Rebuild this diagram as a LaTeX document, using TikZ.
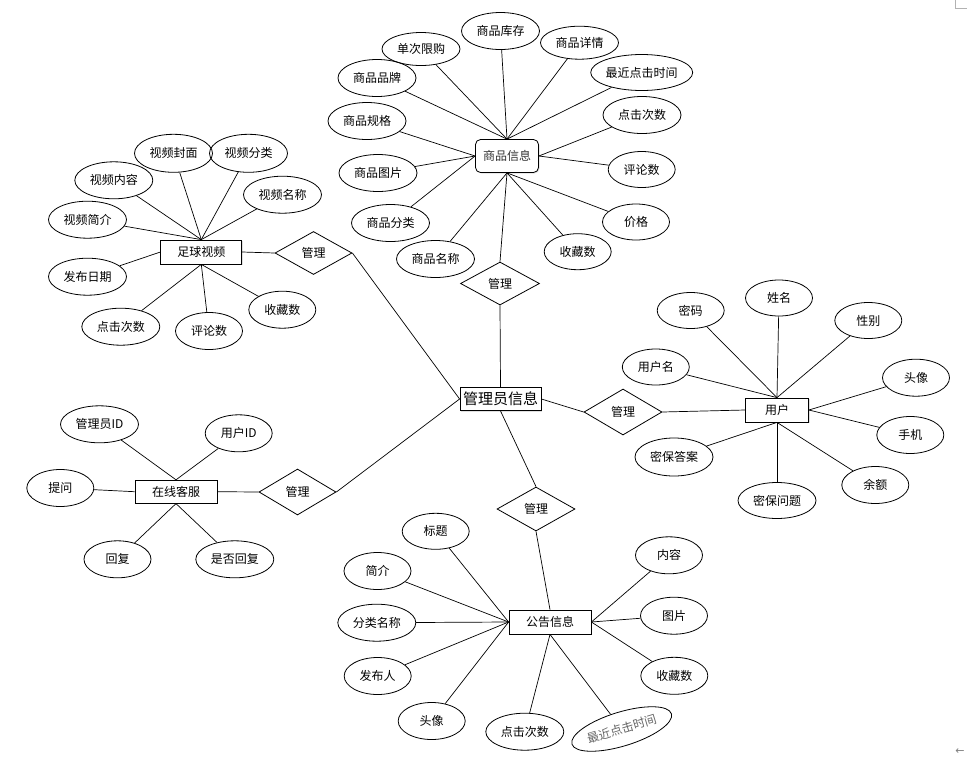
\documentclass[tikz,border=0pt]{standalone}
\usepackage{fontspec}
\setmainfont{Noto Sans CJK SC}
\newfontfamily\symfont{DejaVu Sans}
\usetikzlibrary{shapes.geometric,shadows}
\tikzset{
  base/.style={inner sep=0pt, font=\fontsize{12}{14}\selectfont, line width=0.8pt},
  attr/.style={base, ellipse, draw, minimum width=78pt, minimum height=37pt},
  sattr/.style={attr, minimum width=67pt, minimum height=36pt},
  lattr/.style={attr, minimum width=102pt, minimum height=36pt},
  ent/.style={base, rectangle, draw, fill=white, drop shadow={shadow xshift=1pt, shadow yshift=-1pt, opacity=0.25}},
  rel/.style={base, diamond, draw},
  link/.style={line width=0.7pt}
}
\begin{document}
\begin{tikzpicture}[x=1pt,y=-1pt]
\useasboundingbox (0,0) rectangle (967,761);
% ===== 商品信息 =====
\node[ent, rounded corners=5pt, minimum width=63pt, minimum height=33pt, text=black!80] (pinfo) at (507,156) {商品信息};
\node[attr] (a1) at (500.5,31) {商品库存};
\node[attr, minimum height=33pt] (a2) at (421,49) {单次限购};
\node[attr, minimum height=33pt] (a3) at (579.5,42.7) {商品详情};
\node[lattr] (a4) at (641.7,72.5) {最近点击时间};
\node[attr] (a5) at (377,78) {商品品牌};
\node[attr] (a6) at (367,121) {商品规格};
\node[attr] (a7) at (642,115) {点击次数};
\node[attr] (a8) at (378,173) {商品图片};
\node[sattr] (a9) at (641.7,169.5) {评论数};
\node[attr] (a10) at (390.5,223) {商品分类};
\node[sattr] (a11) at (636,222) {价格};
\node[sattr] (a12) at (577.7,251.7) {收藏数};
\node[attr] (a13) at (435.5,259) {商品名称};
\foreach \n in {a1,a2,a3,a4,a5} \draw[link] (pinfo.north) -- (\n);
\foreach \n in {a6,a8,a10} \draw[link] (pinfo.west) -- (\n);
\foreach \n in {a7,a9} \draw[link] (pinfo.east) -- (\n);
\foreach \n in {a11,a12,a13} \draw[link] (pinfo.south) -- (\n);
\node[rel, minimum width=79pt, minimum height=43pt] (m1) at (500,283.5) {管理};
% ===== 管理员信息 =====
\node[ent, minimum width=81pt, minimum height=23pt, font=\fontsize{15}{17}\selectfont] (admin) at (500.5,399) {管理员信息};
\draw[link] (pinfo.south) -- (m1.north);
\draw[link] (m1.south) -- (admin.north);
% ===== 足球视频 =====
\node[ent, minimum width=81pt, minimum height=24pt] (video) at (201.3,252) {足球视频};
\node[attr, minimum height=38pt] (v1) at (173.5,153.3) {视频封面};
\node[attr, minimum height=38pt] (v2) at (248.5,153.3) {视频分类};
\node[attr] (v3) at (113.8,180.3) {视频内容};
\node[attr] (v4) at (282.5,194.7) {视频名称};
\node[attr] (v5) at (87.5,219.7) {视频简介};
\node[attr] (v6) at (87.5,276.7) {发布日期};
\node[sattr, minimum height=37pt] (v7) at (282.3,309.7) {收藏数};
\node[attr] (v8) at (120.8,326.7) {点击次数};
\node[sattr, minimum height=37pt] (v9) at (209,331) {评论数};
\foreach \n in {v1,v2,v3,v4,v5} \draw[link] (video.north) -- (\n);
\draw[link] (video.west) -- (v6);
\foreach \n in {v7,v8,v9} \draw[link] (video.south) -- (\n);
\node[rel, minimum width=77pt, minimum height=43pt] (m2) at (313.5,253) {管理};
\draw[link] (video.east) -- (m2.west);
\draw[link] (m2.east) -- (admin.west);
% ===== 在线客服 =====
\node[ent, minimum width=82pt, minimum height=23pt] (svc) at (176,491.7) {在线客服};
\node[attr] (s1) at (99.5,424.3) {管理员ID};
\node[sattr, minimum height=37pt] (s2) at (238.7,433.3) {用户ID};
\node[sattr, minimum height=37pt] (s3) at (60.3,488) {提问};
\node[sattr, minimum height=37pt] (s4) at (117.5,559.3) {回复};
\node[attr] (s5) at (234.8,559.3) {是否回复};
\foreach \n in {s1,s2} \draw[link] (svc.north) -- (\n);
\draw[link] (svc.west) -- (s3);
\foreach \n in {s4,s5} \draw[link] (svc.south) -- (\n);
\node[rel, minimum width=77pt, minimum height=46pt] (m3) at (297.5,492) {管理};
\draw[link] (svc.east) -- (m3.west);
\draw[link] (m3.east) -- (admin.west);
% ===== 用户 =====
\node[ent, minimum width=63pt, minimum height=24pt] (user) at (777,410) {用户};
\node[sattr] (u1) at (690.7,310.5) {密码};
\node[sattr] (u2) at (779,298) {姓名};
\node[sattr] (u3) at (868.3,320.5) {性别};
\node[sattr] (u4) at (655.8,367) {用户名};
\node[sattr, minimum height=37pt] (u5) at (916,377.7) {头像};
\node[sattr, minimum height=37pt] (u6) at (910.3,435) {手机};
\node[attr, minimum height=38pt] (u7) at (674,457) {密保答案};
\node[sattr, minimum height=37pt] (u8) at (875.3,485) {余额};
\node[attr, minimum height=36pt] (u9) at (777,500.5) {密保问题};
\foreach \n in {u1,u2,u3,u4} \draw[link] (user.north) -- (\n);
\foreach \n in {u5,u6} \draw[link] (user.east) -- (\n);
\foreach \n in {u7,u8,u9} \draw[link] (user.south) -- (\n);
\node[rel, minimum width=78pt, minimum height=46pt] (m4) at (623,412) {管理};
\draw[link] (admin.east) -- (m4.west);
\draw[link] (m4.east) -- (user.west);
% ===== 公告信息 =====
\node[ent, minimum width=82pt, minimum height=24pt] (notice) at (550,622) {公告信息};
\node[sattr] (n1) at (435.7,531.3) {标题};
\node[sattr, minimum height=37pt] (n2) at (377.5,571) {简介};
\node[attr] (n3) at (376.8,622.7) {分类名称};
\node[sattr, minimum height=37pt] (n4) at (377.7,676) {发布人};
\node[sattr, minimum height=37pt] (n5) at (431.7,721) {头像};
\node[attr] (n6) at (524.8,731.7) {点击次数};
\node[base, ellipse, draw, minimum width=104pt, minimum height=34pt, rotate=17, text=black!60] (n7) at (621.7,729) {最近点击时间};
\node[sattr, minimum height=37pt] (n8) at (669,555.3) {内容};
\node[sattr, minimum height=37pt] (n9) at (674,615.7) {图片};
\node[sattr, minimum height=37pt] (n10) at (674.3,675.8) {收藏数};
\foreach \n in {n1,n2,n3,n4,n5} \draw[link] (notice.west) -- (\n);
\foreach \n in {n6,n7} \draw[link] (notice.south) -- (\n);
\foreach \n in {n8,n9,n10} \draw[link] (notice.east) -- (\n);
\node[rel, minimum width=78pt, minimum height=44pt] (m5) at (536,509) {管理};
\draw[link] (admin.south) -- (m5.north);
\draw[link] (m5.south) -- (notice.north);
% ===== page artifacts =====
\coordinate (c1) at (955,0);
\coordinate (c2) at (955,8);
\coordinate (c3) at (967,8);
\draw[gray!60, line width=0.8pt] (c1) -- (c2) -- (c3);
\node[text=gray, font=\symfont\fontsize{11}{12}\selectfont, inner sep=0pt] (arr) at (960,752) {←};
\end{tikzpicture}
\end{document}
